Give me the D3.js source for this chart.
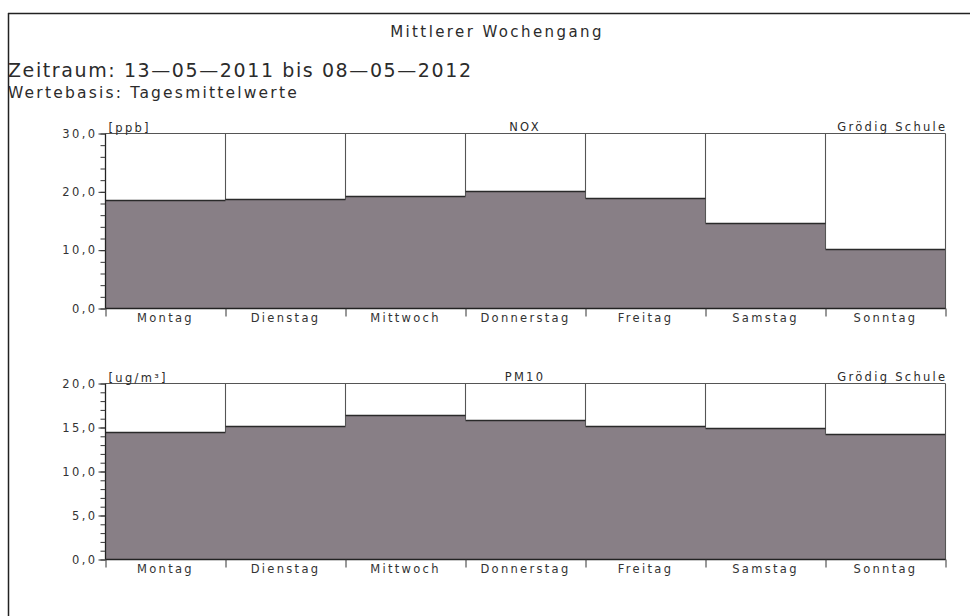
<!DOCTYPE html>
<html>
<head>
<meta charset="utf-8">
<script src="https://cdn.jsdelivr.net/npm/d3@7"></script>
<style>
  html, body { margin: 0; padding: 0; background: #fff; }
  svg { display: block; }
  text { font-family: "DejaVu Sans", "Liberation Sans", sans-serif; fill: #2b2b2b; }
  .axis path { display: none; }
  .axis line { stroke: #333; stroke-width: 1; }
  .axis text { font-size: 11.5px; fill: #333; }
  .yax text { letter-spacing: 2.4px; }
  .xax text { letter-spacing: 2.3px; }
  rect.bar { shape-rendering: crispEdges; }
</style>
</head>
<body>
<svg id="chart" width="970" height="616"></svg>
<script>
// Weekdays shown on the x axis
const days = ["Montag", "Dienstag", "Mittwoch", "Donnerstag", "Freitag", "Samstag", "Sonntag"];

// Mean value per weekday
const noxValues  = [18.6, 18.7, 19.3, 20.2, 18.9, 14.7, 10.2];
const pm10Values = [14.5, 15.2, 16.4, 15.9, 15.2, 15.0, 14.3];

// Tick values for the value axes
const noxMajorTicks  = [0, 10, 20, 30];
const noxMinorTicks  = [0, 2, 4, 6, 8, 10, 12, 14, 16, 18, 20, 22, 24, 26, 28, 30];
const pm10MajorTicks = [0, 5, 10, 15, 20];
const pm10MinorTicks = [0, 1, 2, 3, 4, 5, 6, 7, 8, 9, 10, 11, 12, 13, 14, 15, 16, 17, 18, 19, 20];

// Header texts
const chartTitle = "Mittlerer Wochengang";
const periodText = "Zeitraum: 13\u201405\u20142011  bis  08\u201405\u20142012";
const basisText  = "Wertebasis: Tagesmittelwerte";
const station    = "Grödig Schule";

const panels = [
  { name: "NOX",  unit: "[ppb]",   values: noxValues,  max: 30, major: noxMajorTicks,  minor: noxMinorTicks,  top: 133.5, bottom: 308.5 },
  { name: "PM10", unit: "[ug/m³]", values: pm10Values, max: 20, major: pm10MajorTicks, minor: pm10MinorTicks, top: 383.5, bottom: 559.5 }
];

const svg = d3.select("#chart");
const left = 105.5, right = 945.5;
const barFill = "#887f86";

// German number format with decimal comma
const de = d3.formatLocale({ decimal: ",", thousands: ".", grouping: [3], currency: ["", " €"] });
const fmt = de.format(".1f");

// Outer frame lines
svg.append("line").attr("x1", 8).attr("x2", 970).attr("y1", 13.5).attr("y2", 13.5)
  .attr("stroke", "#222").attr("stroke-width", 1.5);
svg.append("line").attr("x1", 8.5).attr("x2", 8.5).attr("y1", 13).attr("y2", 616)
  .attr("stroke", "#222").attr("stroke-width", 1.5);

// Header
svg.append("text").attr("x", 497).attr("y", 37).attr("text-anchor", "middle")
  .style("font-size", "15px").style("letter-spacing", "2.4px").text(chartTitle);
svg.append("text").attr("x", 8).attr("y", 77)
  .style("font-size", "19px").style("letter-spacing", "1.6px").text(periodText);
svg.append("text").attr("x", 8).attr("y", 98)
  .style("font-size", "15.5px").style("letter-spacing", "2.2px").text(basisText);

const xBand = d3.scaleBand().domain(days).range([left, right]).padding(0);
const xEdge = d3.scaleLinear().domain([0, days.length]).range([left, right]);

panels.forEach(p => {
  const y = d3.scaleLinear().domain([0, p.max]).range([p.bottom, p.top]);
  const g = svg.append("g");

  // white plot background
  g.append("rect").attr("x", left).attr("y", p.top).attr("width", right - left)
    .attr("height", p.bottom - p.top).attr("fill", "#fff");

  // filled bars
  g.selectAll("rect.bar").data(p.values).join("rect").attr("class", "bar")
    .attr("x", (d, i) => xBand(days[i]) - 0.5)
    .attr("width", xBand.bandwidth() + 1)
    .attr("y", d => y(d))
    .attr("height", d => y(0) - y(d))
    .attr("fill", barFill);

  // column separators down to the lower of the two neighbouring bar tops
  const seps = d3.range(1, days.length).map(i => ({
    x: xEdge(i), y2: Math.max(y(p.values[i - 1]), y(p.values[i]))
  }));
  g.selectAll("line.sep").data(seps).join("line").attr("class", "sep")
    .attr("x1", d => d.x).attr("x2", d => d.x)
    .attr("y1", p.top).attr("y2", d => d.y2)
    .attr("stroke", "#555").attr("stroke-width", 1.1);

  // bar top edges
  g.selectAll("line.topedge").data(p.values).join("line").attr("class", "topedge")
    .attr("x1", (d, i) => xEdge(i)).attr("x2", (d, i) => xEdge(i + 1))
    .attr("y1", d => Math.round(y(d)) + 0.5).attr("y2", d => Math.round(y(d)) + 0.5)
    .attr("stroke", "#2a2a2a").attr("stroke-width", 1.4);

  // plot frame
  g.append("line").attr("x1", left).attr("x2", right).attr("y1", p.top).attr("y2", p.top)
    .attr("stroke", "#555").attr("stroke-width", 1.1);
  g.append("line").attr("x1", right).attr("x2", right).attr("y1", p.top).attr("y2", p.bottom)
    .attr("stroke", "#555").attr("stroke-width", 1.1);
  g.append("line").attr("x1", left).attr("x2", left).attr("y1", p.top).attr("y2", p.bottom)
    .attr("stroke", "#222").attr("stroke-width", 1.3);
  g.append("line").attr("x1", left).attr("x2", right).attr("y1", p.bottom).attr("y2", p.bottom)
    .attr("stroke", "#222").attr("stroke-width", 1.4);

  // minor y ticks
  g.append("g").attr("class", "axis").attr("transform", `translate(${left},0)`)
    .call(d3.axisLeft(y).tickValues(p.minor).tickSize(5).tickFormat(""));
  // major y ticks with labels
  g.append("g").attr("class", "axis yax").attr("transform", `translate(${left},0)`)
    .call(d3.axisLeft(y).tickValues(p.major).tickSize(7).tickPadding(1).tickFormat(fmt));

  // x ticks at column boundaries
  g.append("g").attr("class", "axis").attr("transform", `translate(0,${p.bottom})`)
    .call(d3.axisBottom(xEdge).tickValues(d3.range(0, days.length + 1)).tickSize(8).tickFormat(""));
  // weekday labels centred in each column
  g.append("g").attr("class", "axis xax").attr("transform", `translate(0,${p.bottom})`)
    .call(d3.axisBottom(xBand).tickSize(0).tickPadding(5));

  // panel captions
  const cap = { "font-size": "11.5px", "letter-spacing": "2.3px" };
  g.append("text").attr("x", left + 3).attr("y", p.top - 2)
    .style("font-size", cap["font-size"]).style("letter-spacing", cap["letter-spacing"]).text(p.unit);
  g.append("text").attr("x", 525).attr("y", p.top - 3).attr("text-anchor", "middle")
    .style("font-size", cap["font-size"]).style("letter-spacing", cap["letter-spacing"]).text(p.name);
  g.append("text").attr("x", right + 2).attr("y", p.top - 3).attr("text-anchor", "end")
    .style("font-size", cap["font-size"]).style("letter-spacing", cap["letter-spacing"]).text(station);
});
</script>
</body>
</html>
